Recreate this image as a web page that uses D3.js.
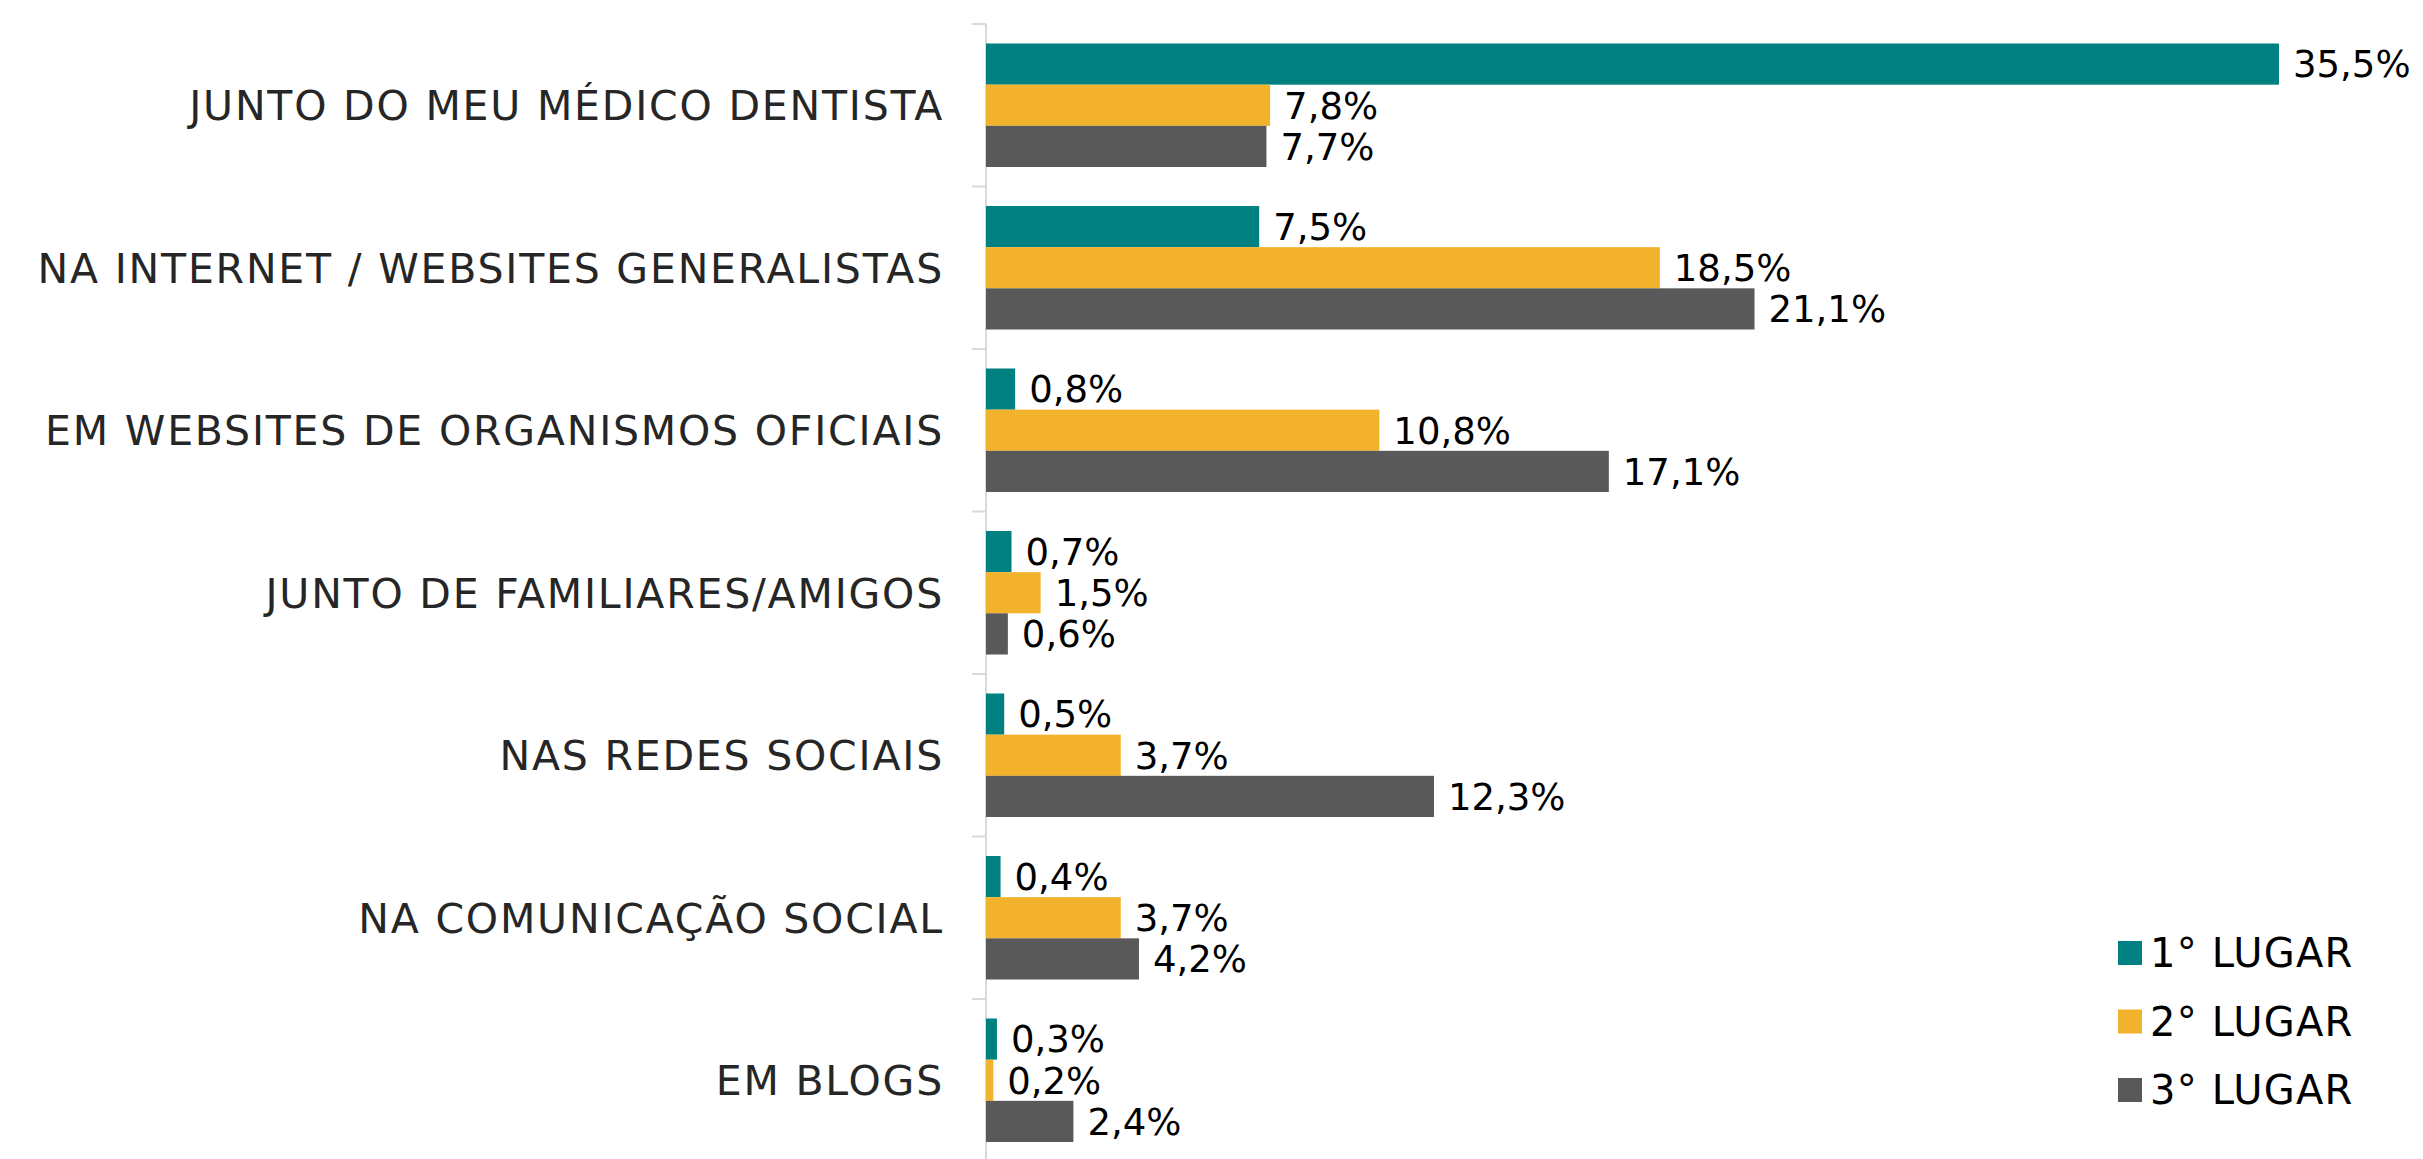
<!DOCTYPE html>
<html><head><meta charset="utf-8">
<script src="https://cdn.jsdelivr.net/npm/d3@7"></script>
<style>html,body{margin:0;padding:0;background:#fff;}</style>
</head><body>
<svg id="c" width="2423" height="1159"></svg>
<script>
const categories = [
  "JUNTO DO MEU MÉDICO DENTISTA",
  "NA INTERNET / WEBSITES GENERALISTAS",
  "EM WEBSITES DE ORGANISMOS OFICIAIS",
  "JUNTO DE FAMILIARES/AMIGOS",
  "NAS REDES SOCIAIS",
  "NA COMUNICAÇÃO SOCIAL",
  "EM BLOGS"
];
const seriesNames = ["1° LUGAR", "2° LUGAR", "3° LUGAR"];
const lugar1 = [35.5, 7.5, 0.8, 0.7, 0.5, 0.4, 0.3];
const lugar2 = [7.8, 18.5, 10.8, 1.5, 3.7, 3.7, 0.2];
const lugar3 = [7.7, 21.1, 17.1, 0.6, 12.3, 4.2, 2.4];
const colors = ["#008080", "#F3B22C", "#595959"];

const seriesValues = [lugar1, lugar2, lugar3];
const FONT = "'DejaVu Sans', sans-serif";
const svg = d3.select("#c");

const x0 = 986;
const x = d3.scaleLinear().domain([0, 35.5]).range([x0, 2279]);
const y = d3.scaleBand().domain(categories).range([24, 24 + 162.5 * 7]).padding(0);
const gap = y.bandwidth() * 0.12;
const ys = d3.scaleBand().domain(seriesNames).range([gap, y.bandwidth() - gap]).padding(0);

// axis line
svg.append("line").attr("x1", x0).attr("x2", x0).attr("y1", 24).attr("y2", 1159)
  .attr("stroke", "#d9d9d9").attr("stroke-width", 2);
// ticks between categories
const tickYs = categories.map(c => y(c));
svg.selectAll("line.tick").data(tickYs).join("line").attr("class", "tick")
  .attr("x1", x0 - 14).attr("x2", x0).attr("y1", d => d).attr("y2", d => d)
  .attr("stroke", "#d9d9d9").attr("stroke-width", 2);

// category labels
svg.selectAll("text.cat").data(categories).join("text").attr("class", "cat")
  .attr("x", 944).attr("y", d => y(d) + y.bandwidth() / 2)
  .attr("dy", "0.36em").attr("text-anchor", "end")
  .attr("font-family", FONT).attr("font-size", 41).attr("letter-spacing", 1.8)
  .attr("fill", "#262626")
  .text(d => d);

// bars
const rows = [];
categories.forEach((c, i) => {
  seriesNames.forEach((s, j) => rows.push({c, s, j, v: seriesValues[j][i]}));
});
svg.selectAll("rect.bar").data(rows).join("rect").attr("class", "bar")
  .attr("x", x(0)).attr("y", d => y(d.c) + ys(d.s))
  .attr("width", d => x(d.v) - x(0)).attr("height", ys.bandwidth())
  .attr("fill", d => colors[d.j]);

svg.selectAll("text.val").data(rows).join("text").attr("class", "val")
  .attr("x", d => x(d.v) + 14).attr("y", d => y(d.c) + ys(d.s) + ys.bandwidth() / 2)
  .attr("dy", "0.36em")
  .attr("font-family", FONT).attr("font-size", 37).attr("fill", "#000")
  .text(d => d.v.toFixed(1).replace(".", ",") + "%");

// legend
const leg = svg.append("g");
seriesNames.forEach((s, j) => {
  const cy = 953 + j * 68.5;
  leg.append("rect").attr("x", 2118).attr("y", cy - 12).attr("width", 24).attr("height", 24).attr("fill", colors[j]);
  leg.append("text").attr("x", 2150).attr("y", cy).attr("dy", "0.36em")
    .attr("font-family", FONT).attr("font-size", 40).attr("letter-spacing", 1.2)
    .attr("fill", "#000").text(s);
});
</script>
</body></html>
